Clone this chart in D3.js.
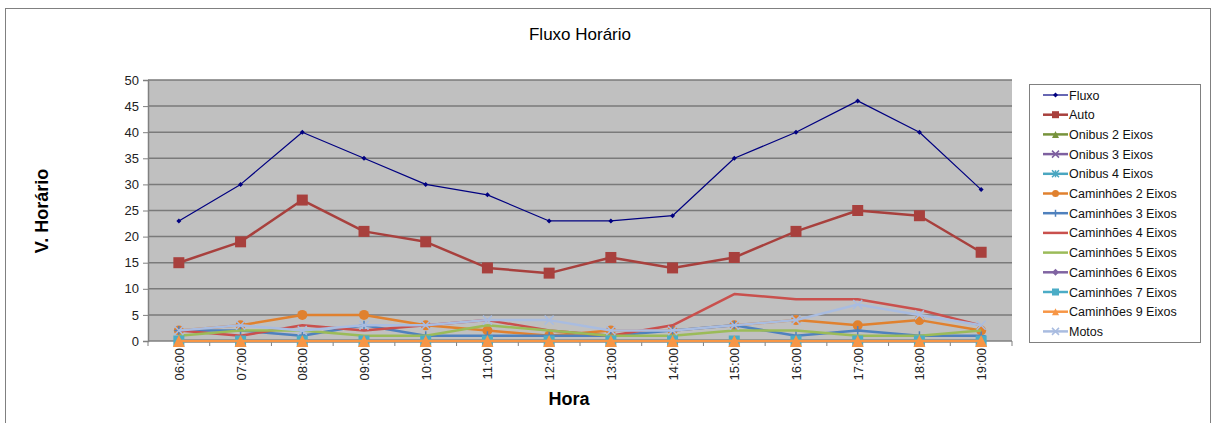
<!DOCTYPE html>
<html>
<head>
<meta charset="utf-8">
<script src="https://cdn.jsdelivr.net/npm/d3@7"></script>
<style>
  body { margin: 0; background: #fff; }
  text { font-family: "Liberation Sans", Arial, sans-serif; }
</style>
</head>
<body>
<svg id="chart" width="1216" height="423"></svg>
<script>
const hours = ["06:00", "07:00", "08:00", "09:00", "10:00", "11:00", "12:00",
  "13:00", "14:00", "15:00", "16:00", "17:00", "18:00", "19:00"];
const yTicks = [0, 5, 10, 15, 20, 25, 30, 35, 40, 45, 50];

const fluxo = [23, 30, 40, 35, 30, 28, 23, 23, 24, 35, 40, 46, 40, 29];
const auto = [15, 19, 27, 21, 19, 14, 13, 16, 14, 16, 21, 25, 24, 17];
const onibus2 = [0, 0, 0, 0, 0, 0, 0, 0, 0, 0, 0, 0, 0, 0];
const onibus3 = [0, 0, 0, 0, 0, 0, 0, 0, 0, 0, 0, 0, 0, 0];
const onibus4 = [0, 0, 0, 0, 0, 0, 0, 0, 0, 0, 0, 0, 0, 0];
const cam2 = [2, 3, 5, 5, 3, 2, 1, 2, 2, 3, 4, 3, 4, 2];
const cam3 = [2, 2, 1, 3, 1, 1, 1, 1, 2, 3, 1, 2, 1, 1];
const cam4 = [2, 1, 3, 2, 3, 4, 2, 1, 3, 9, 8, 8, 6, 3];
const cam5 = [1, 2, 2, 1, 1, 3, 2, 1, 1, 2, 2, 1, 1, 2];
const cam6 = [0, 0, 0, 0, 0, 0, 0, 0, 0, 0, 0, 0, 0, 0];
const cam7 = [0, 0, 0, 0, 0, 0, 0, 0, 0, 0, 0, 0, 0, 0];
const cam9 = [0, 0, 0, 0, 0, 0, 0, 0, 0, 0, 0, 0, 0, 0];
const motos = [2, 3, 2, 3, 3, 4, 4, 2, 2, 3, 4, 7, 5, 3];

const series = [
  { name: "Fluxo", values: fluxo, color: "#000080", width: 1.2, marker: "diamond", size: 5 },
  { name: "Auto", values: auto, color: "#A8403D", width: 2.5, marker: "square", size: 11 },
  { name: "Onibus 2 Eixos", values: onibus2, color: "#77933C", width: 2.5, marker: "triangle", size: 9 },
  { name: "Onibus 3 Eixos", values: onibus3, color: "#7E60A0", width: 2.5, marker: "x", size: 8 },
  { name: "Onibus 4 Eixos", values: onibus4, color: "#4AA6C0", width: 2.5, marker: "star", size: 8 },
  { name: "Caminhões 2 Eixos", values: cam2, color: "#E0812F", width: 2.5, marker: "circle", size: 10 },
  { name: "Caminhões 3 Eixos", values: cam3, color: "#4F81BD", width: 2.5, marker: "plus", size: 9 },
  { name: "Caminhões 4 Eixos", values: cam4, color: "#C9504D", width: 2.5, marker: null },
  { name: "Caminhões 5 Eixos", values: cam5, color: "#9BBB59", width: 2.5, marker: null },
  { name: "Caminhões 6 Eixos", values: cam6, color: "#8064A2", width: 2.5, marker: "diamond", size: 7 },
  { name: "Caminhões 7 Eixos", values: cam7, color: "#4BACC6", width: 2.5, marker: "square", size: 11 },
  { name: "Caminhões 9 Eixos", values: cam9, color: "#F79646", width: 2.5, marker: "triangle", size: 12 },
  { name: "Motos", values: motos, color: "#A9BCE0", width: 2.5, marker: "x", size: 9 }
];

const svg = d3.select("#chart");
const plot = { left: 148, right: 1012, top: 80, bottom: 341 };

// outer frame
svg.append("rect")
  .attr("x", 5.5).attr("y", 8.5).attr("width", 1205).attr("height", 430)
  .attr("fill", "#fff").attr("stroke", "#808080");

const x = d3.scalePoint().domain(hours).range([plot.left, plot.right]).padding(0.5);
const y = d3.scaleLinear().domain([0, 50]).range([plot.bottom, plot.top]);

// plot area
svg.append("rect")
  .attr("x", plot.left).attr("y", plot.top)
  .attr("width", plot.right - plot.left).attr("height", plot.bottom - plot.top)
  .attr("fill", "#C0C0C0");

svg.append("g")
  .selectAll("line")
  .data(yTicks.filter(d => d > 0))
  .join("line")
  .attr("x1", plot.left).attr("x2", plot.right)
  .attr("y1", d => y(d)).attr("y2", d => y(d))
  .attr("stroke", "#7a7a7a").attr("stroke-width", 1.5);

// y axis
const yAxis = svg.append("g")
  .attr("transform", `translate(${plot.left},0)`)
  .call(d3.axisLeft(y).tickValues(yTicks).tickSize(5).tickPadding(4));
yAxis.select(".domain").attr("stroke", "#808080").attr("stroke-width", 1.5);
yAxis.selectAll(".tick line").attr("stroke", "#808080");
yAxis.selectAll("text").attr("font-size", 13).attr("fill", "#222")
  .style("font-family", "'Liberation Sans', Arial, sans-serif");

// x axis
const step = x.step();
svg.append("line")
  .attr("x1", plot.left).attr("x2", plot.right)
  .attr("y1", plot.bottom).attr("y2", plot.bottom)
  .attr("stroke", "#808080").attr("stroke-width", 1.5);
svg.append("g")
  .selectAll("line")
  .data(d3.range(hours.length + 1))
  .join("line")
  .attr("x1", i => plot.left + i * step).attr("x2", i => plot.left + i * step)
  .attr("y1", plot.bottom).attr("y2", plot.bottom + 5)
  .attr("stroke", "#808080");
svg.append("g")
  .selectAll("text")
  .data(hours)
  .join("text")
  .attr("transform", d => `translate(${x(d) + 5},${plot.bottom + 7}) rotate(-90)`)
  .attr("text-anchor", "end")
  .attr("font-size", 13)
  .attr("fill", "#222")
  .text(d => d);

// titles
svg.append("text")
  .attr("x", 580).attr("y", 40)
  .attr("text-anchor", "middle").attr("font-size", 17)
  .text("Fluxo Horário");
svg.append("text")
  .attr("x", 569).attr("y", 405)
  .attr("text-anchor", "middle").attr("font-size", 18).attr("font-weight", "bold")
  .text("Hora");
svg.append("text")
  .attr("transform", "translate(48,211) rotate(-90)")
  .attr("text-anchor", "middle").attr("font-size", 18).attr("font-weight", "bold")
  .text("V. Horário");

function drawMarker(g, type, color, size) {
  const h = size / 2;
  if (type === "diamond") {
    g.append("path").attr("d", `M0,${-h}L${h},0L0,${h}L${-h},0Z`).attr("fill", color);
  } else if (type === "square") {
    g.append("rect").attr("x", -h).attr("y", -h).attr("width", size).attr("height", size).attr("fill", color);
  } else if (type === "triangle") {
    g.append("path").attr("d", `M0,${-h}L${h},${h}L${-h},${h}Z`).attr("fill", color);
  } else if (type === "circle") {
    g.append("circle").attr("r", h).attr("fill", color);
  } else if (type === "x") {
    g.append("path").attr("d", `M${-h},${-h}L${h},${h}M${-h},${h}L${h},${-h}`)
      .attr("stroke", color).attr("stroke-width", 1.5);
  } else if (type === "plus") {
    g.append("path").attr("d", `M${-h},0L${h},0M0,${-h}L0,${h}`)
      .attr("stroke", color).attr("stroke-width", 1.5);
  } else if (type === "star") {
    g.append("path").attr("d", `M${-h},${-h}L${h},${h}M${-h},${h}L${h},${-h}M0,${-h}L0,${h}`)
      .attr("stroke", color).attr("stroke-width", 1.5);
  }
}

const line = d3.line().x((d, i) => x(hours[i])).y(d => y(d));

// series order as in the legend: later series are painted on top
const seriesG = svg.append("g");
series.forEach(s => {
  const g = seriesG.append("g");
  g.append("path")
    .attr("d", line(s.values))
    .attr("fill", "none")
    .attr("stroke", s.color)
    .attr("stroke-width", s.width)
    .attr("stroke-linejoin", "round");
  if (s.marker) {
    s.values.forEach((v, i) => {
      const m = g.append("g").attr("transform", `translate(${x(hours[i])},${y(v)})`);
      drawMarker(m, s.marker, s.color, s.size);
    });
  }
});

// legend
const legend = svg.append("g").attr("transform", "translate(1029,84)");
legend.append("rect")
  .attr("x", 0.5).attr("y", 0.5).attr("width", 171).attr("height", 258)
  .attr("fill", "#fff").attr("stroke", "#808080");
series.forEach((s, i) => {
  const row = legend.append("g").attr("transform", `translate(0,${11 + i * 19.7})`);
  row.append("line")
    .attr("x1", 14).attr("x2", 39).attr("y1", 0).attr("y2", 0)
    .attr("stroke", s.color).attr("stroke-width", s.width);
  if (s.marker) {
    const m = row.append("g").attr("transform", "translate(26.5,0)");
    drawMarker(m, s.marker, s.color, Math.min(s.size, 7));
  }
  row.append("text")
    .attr("x", 40).attr("y", 4.5)
    .attr("font-size", 12.5).attr("fill", "#111")
    .text(s.name);
});
</script>
</body>
</html>
